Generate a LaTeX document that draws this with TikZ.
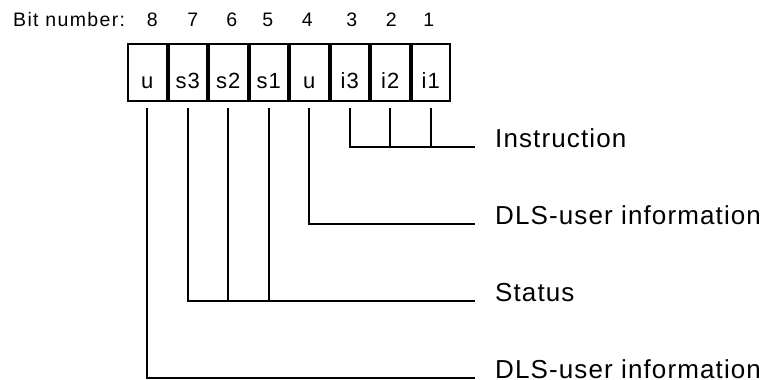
\documentclass[tikz,border=0pt]{standalone}
\usepackage{fontspec}
\setmainfont{Liberation Sans}
\newfontfamily\lblfont[LetterSpace=4.3]{Liberation Sans}
\newfontfamily\bitfont[LetterSpace=7]{Liberation Sans}
\usetikzlibrary{calc,positioning}

\tikzset{
  cell/.style={draw,line width=2pt,minimum width=38.5pt,minimum height=57pt,
    inner sep=0pt,text height=41pt,text depth=10pt,
    font=\lblfont\fontsize{22}{26}\selectfont},
  bitno/.style={inner sep=0pt,anchor=base,font=\bitfont\fontsize{19.5}{23}\selectfont},
  conn/.style={line width=2pt},
  lbl/.style={inner sep=0pt,anchor=base west,text depth=0pt,
    font=\lblfont\fontsize{26}{30}\selectfont}
}

\begin{document}
\begin{tikzpicture}[x=1pt,y=1pt]
  \useasboundingbox(0,0)rectangle(766,-380);
  % the octet
  \node[cell](c8)at(147.25,-72.5){u};
  \node[cell,right=0pt of c8](c7){s3};
  \node[cell,right=0pt of c7](c6){s2};
  \node[cell,right=0pt of c6](c5){s1};
  \node[cell,right=0pt of c5](c4){u};
  \node[cell,right=0pt of c4](c3){i3};
  \node[cell,right=0pt of c3](c2){i2};
  \node[cell,right=0pt of c2](c1){i1};
  % bit numbers
  \node[bitno](b8)at($(c8|-0,-27)+(5,0)$){8};
  \node[bitno](b7)at($(c7|-0,-27)+(5,0)$){7};
  \node[bitno](b6)at($(c6|-0,-27)+(3.5,0)$){6};
  \node[bitno](b5)at($(c5|-0,-27)+(-1,0)$){5};
  \node[bitno](b4)at($(c4|-0,-27)+(-2,0)$){4};
  \node[bitno](b3)at($(c3|-0,-27)+(2,0)$){3};
  \node[bitno](b2)at($(c2|-0,-27)+(1,0)$){2};
  \node[bitno](b1)at($(c1|-0,-27)+(-2,0)$){1};
  \node[bitno,anchor=base west](bn)at(13,-27){Bit number:};
  % line ends
  \coordinate(ins)at(475,-147);
  \coordinate(dlsa)at(475,-224);
  \coordinate(stat)at(475,-301);
  \coordinate(dlsb)at(475,-378);
  % connectors
  \draw[conn]([yshift=-6pt]c3.south)|-(ins);
  \draw[conn]([yshift=-6pt]c2.south)--(c2|-ins);
  \draw[conn]([yshift=-6pt]c1.south)--(c1|-ins);
  \draw[conn]([yshift=-6pt]c4.south)|-(dlsa);
  \draw[conn]([yshift=-6pt]c7.south)|-(stat);
  \draw[conn]([yshift=-6pt]c6.south)--(c6|-stat);
  \draw[conn]([yshift=-6pt]c5.south)--(c5|-stat);
  \draw[conn]([yshift=-6pt]c8.south)|-(dlsb);
  % labels
  \node[lbl](instr)at([xshift=20pt]ins){Instruction};
  \node[lbl](usera)at([xshift=20pt]dlsa){DLS-user information};
  \node[lbl](status)at([xshift=20pt]stat){Status};
  \node[lbl](userb)at([xshift=20pt]dlsb){DLS-user information};
\end{tikzpicture}
\end{document}
